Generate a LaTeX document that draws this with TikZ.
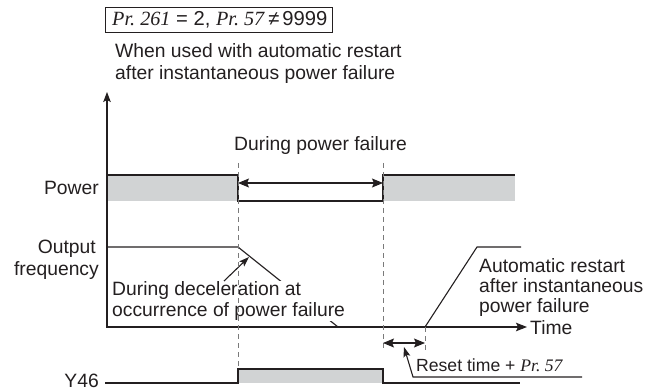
\documentclass[tikz,border=0pt]{standalone}
\usepackage{fontspec}
\setmainfont{Liberation Sans}
\newfontfamily\tmsfont{Liberation Serif}
\usetikzlibrary{arrows.meta}
\definecolor{ink}{HTML}{231F20}
\definecolor{band}{HTML}{D1D3D4}
\definecolor{guidec}{HTML}{7A7A7A}
\newcommand\prit[1]{{\tmsfont\itshape Pr.\ #1}}
\begin{document}
\begin{tikzpicture}[x=1pt,y=-1pt,
  font=\fontsize{19.3}{21}\selectfont,
  sig/.style={draw=ink, line width=1.1pt},
  guide/.style={draw=guidec, line width=0.9pt, dash pattern=on 5pt off 4pt},
  dtip/.style={{Stealth[length=11pt,width=9pt,inset=2pt]}-{Stealth[length=11pt,width=9pt,inset=2pt]}},
  lbl/.style={inner sep=0pt, text=ink},
  small/.style={font=\fontsize{17.6}{20}\selectfont}]
\useasboundingbox (0,0) rectangle (653,390);

% condition box
\node[lbl, anchor=base west, font=\fontsize{20.2}{21}\selectfont] (cond) at (112,26) {\prit{261} = 2, \prit{57}\kern4pt≠\kern3pt9999};
\draw[draw=ink, line width=0.8pt] (105,7) rectangle (332,32);

\node[lbl, anchor=base west] (h1) at (115,58) {When used with automatic restart};
\node[lbl, anchor=base west] (h2) at (115,80) {after instantaneous power failure};

% power signal
\fill[band] (107,175) rectangle (238,201);
\fill[band] (383,175) rectangle (515,201);
\coordinate (p0) at (107,175);
\coordinate (p1) at (238,175);
\coordinate (p2) at (238,201);
\coordinate (p3) at (383,201);
\coordinate (p4) at (383,175);
\coordinate (p5) at (515,175);
\draw[sig] (p0) -- (p1) -- (p2) -- (p3) -- (p4) -- (p5);
\coordinate (fa) at (238,183);
\coordinate (fb) at (383,183);
\draw[sig, dtip] (fa) -- (fb);
\node[lbl, anchor=base west] (dpf) at (234,151) {During power failure};
\node[lbl, anchor=base east] (pow) at (99,195) {Power};

% axes
\coordinate (ytop) at (107,92);
\coordinate (org) at (107,327);
\coordinate (xend) at (527,327);
\draw[sig, {Stealth[length=10pt,width=7.5pt,inset=2pt]}-{Stealth[length=11pt,width=8.5pt,inset=2pt]}] (ytop) -- (org) -- (xend);
\node[lbl, anchor=base west] (time) at (530,334) {Time};

% output frequency
\coordinate (f0) at (107,247);
\coordinate (f1) at (238,247);
\coordinate (f2) at (338,327);
\draw[sig] (f0) -- (f1) -- (f2);
\fill[white] (111,281) rectangle (352,321);
\node[lbl, anchor=base west] (dd1) at (112,295) {During deceleration at};
\node[lbl, anchor=base west] (dd2) at (112,316) {occurrence of power failure};
\coordinate (da) at (224,281);
\coordinate (db) at (249,257);
\draw[sig, -{Stealth[length=10pt,width=7pt,inset=2pt]}] (da) -- (db);
\node[lbl, anchor=base east] (of1) at (96,253) {Output};
\node[lbl, anchor=base east] (of2) at (99,275) {frequency};

% restart
\coordinate (r0) at (425,327);
\coordinate (r1) at (477,247);
\coordinate (r2) at (521,247);
\draw[sig] (r0) -- (r1) -- (r2);
\node[lbl, anchor=base west] (ar1) at (479,272) {Automatic restart};
\node[lbl, anchor=base west] (ar2) at (479,292) {after instantaneous};
\node[lbl, anchor=base west] (ar3) at (479,312) {power failure};

% Y46
\fill[band] (238,369) rectangle (383,383);
\coordinate (y0) at (105,383);
\coordinate (y1) at (238,383);
\coordinate (y2) at (238,369);
\coordinate (y3) at (383,369);
\coordinate (y4) at (383,383);
\coordinate (y5) at (520,383);
\draw[sig] (y0) -- (y1) -- (y2) -- (y3) -- (y4) -- (y5);
\node[lbl, anchor=base east] (y46) at (99,387) {Y46};

% guides
\draw[guide] (238,163) -- (238,369);
\draw[guide] (383,163) -- (383,348);
\draw[guide] (425,327) -- (425,350);

% reset time
\coordinate (ra) at (383,343);
\coordinate (rb) at (425,343);
\draw[sig, dtip] (ra) -- (rb);
\coordinate (l0) at (582,377);
\coordinate (l1) at (413,377);
\coordinate (l2) at (404,347);
\draw[sig, -{Stealth[length=10pt,width=7pt,inset=2pt]}] (l0) -- (l1) -- (l2);
\node[lbl, small, anchor=base west] (rst) at (416,371) {Reset time + \prit{57}};
\end{tikzpicture}
\end{document}
